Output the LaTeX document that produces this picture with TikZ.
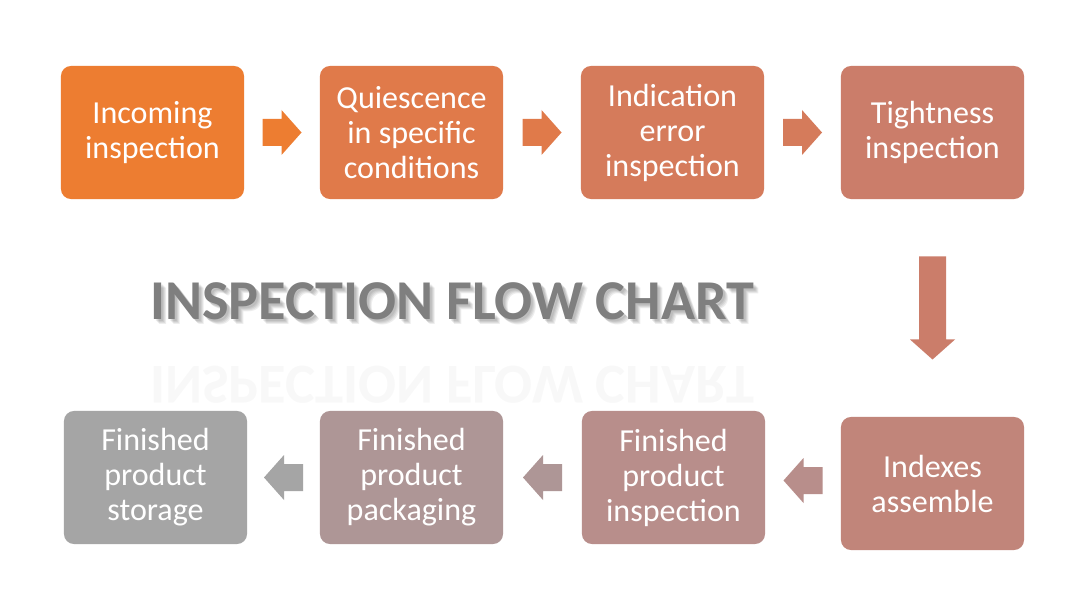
\documentclass[tikz,border=0pt]{standalone}
\usepackage{fontspec}
\setmainfont{Carlito}
\usepackage{tikz}
\usetikzlibrary{calc}

\definecolor{step1}{HTML}{ED7D31}
\definecolor{step2}{HTML}{E07A4A}
\definecolor{step3}{HTML}{D57B5B}
\definecolor{step4}{HTML}{CB7D6A}
\definecolor{step5}{HTML}{C1857A}
\definecolor{step6}{HTML}{B88E8B}
\definecolor{step7}{HTML}{AE9696}
\definecolor{step8}{HTML}{A5A5A5}
\definecolor{titlegray}{HTML}{7F7F7F}

\begin{document}
\begin{tikzpicture}[
  x=0.025cm, y=-0.025cm,
  stepbox/.style={rectangle, rounded corners=0.25cm, minimum width=4.575cm,
    minimum height=3.325cm, align=center, text=white, inner sep=0pt,
    font=\fontsize{22.8}{24.9}\selectfont},
  titletext/.style={anchor=base west, inner sep=0pt,
    font=\fontsize{40}{48}\selectfont\bfseries},
  pics/barrow/.style={code={
    \fill[pic actions] (-#1/2,-13.5) -- ({#1/2-20},-13.5) -- ({#1/2-20},-22.5)
      -- (#1/2,0) -- ({#1/2-20},22.5) -- ({#1/2-20},13.5) -- (-#1/2,13.5) -- cycle;
  }}
]
\useasboundingbox[fill=white] (0,0) rectangle (1079,603);

% top row
\node[stepbox, fill=step1] (s1) at (152.5,132.5) {Incoming\\inspection};
\node[stepbox, fill=step2] (s2) at (411.5,132.5) {Quiescence\\in specific\\conditions};
\node[stepbox, fill=step3] (s3) at (672.5,132.5) {Indication\\error\\inspection};
\node[stepbox, fill=step4] (s4) at (932.5,132.5) {Tightness\\inspection};

% bottom row
\node[stepbox, fill=step5] (s5) at (932.5,483.5) {Indexes\\assemble};
\node[stepbox, fill=step6] (s6) at (673.5,477.5) {Finished\\product\\inspection};
\node[stepbox, fill=step7] (s7) at (411.5,477.5) {Finished\\product\\packaging};
\node[stepbox, fill=step8] (s8) at (155.5,477.5) {Finished\\product\\storage};

% block arrows
\pic[fill=step1] at ($(s1.east)!0.5!(s2.west)$) {barrow=39};
\pic[fill=step2] at ($(s2.east)!0.5!(s3.west)$) {barrow=39};
\pic[fill=step3] at ($(s3.east)!0.5!(s4.west)$) {barrow=39};
\pic[fill=step4, rotate=-90] at ($(s4.south)!0.5!(s5.north)$) {barrow=103};
\pic[fill=step6, rotate=180] at ($(s5.west)!0.5!(s6.east)$) {barrow=39};
\pic[fill=step7, rotate=180] at ($(s6.west)!0.5!(s7.east)$) {barrow=39};
\pic[fill=step8, rotate=180] at ($(s7.west)!0.5!(s8.east)$) {barrow=39};

% title with soft shadow and reflection
\foreach \d in {2,3,4,5}
  \node[titletext, text=black, opacity=0.07] at (150+\d,320+\d) {INSPECTION FLOW CHART};
\node[titletext, text=titlegray] (title) at (150,320) {INSPECTION FLOW CHART};
\node[titletext, text=titlegray, opacity=0.05, yscale=-1, transform shape]
  (mirror) at (150,367) {INSPECTION FLOW CHART};
\end{tikzpicture}
\end{document}
